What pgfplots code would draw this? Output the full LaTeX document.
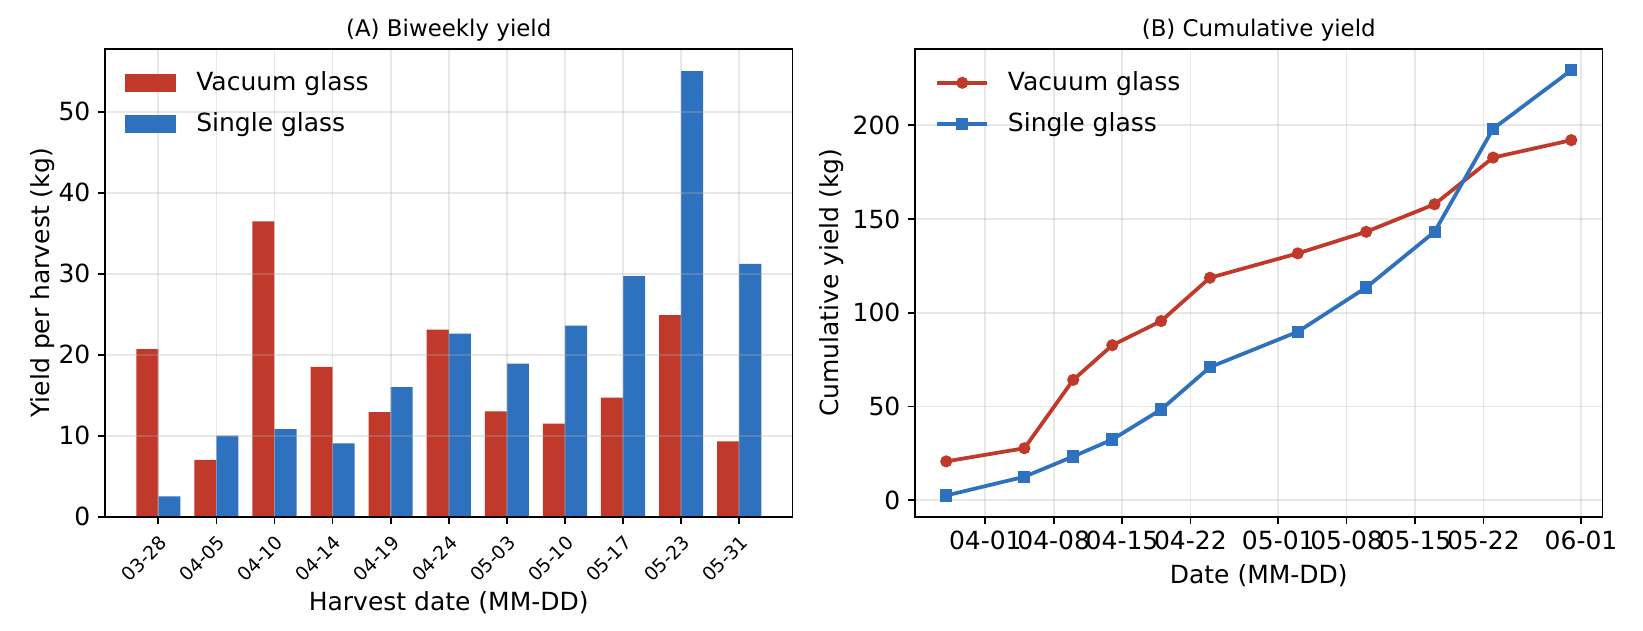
\documentclass[border=0pt]{standalone}
\usepackage{pgfplots}
\pgfplotsset{compat=1.18}
\usepackage{fontspec}
\setmainfont{DejaVu Sans}
\definecolor{cred}{RGB}{192,57,43}
\definecolor{cblue}{RGB}{46,113,190}

\pgfplotsset{
  common/.style={
    scale only axis, width=330pt, height=224.5pt,
    /pgf/number format/assume math mode=true,
    tick align=outside, xtick pos=bottom, ytick pos=left,
    major tick length=3.5pt,
    major tick style={black, line width=0.8pt},
    axis line style={line width=0.8pt},
    grid=major,
    major grid style={draw=black!31, opacity=0.3, line width=0.8pt},
    tick label style={font=\fontsize{12}{14}\selectfont},
    label style={font=\fontsize{12}{14}\selectfont},
    title style={font=\fontsize{11}{13}\selectfont, at={(0.5,1)}, anchor=base, yshift=0pt},
    legend cell align=left,
    legend style={draw=none, fill=none, font=\fontsize{12}{14}\selectfont,
      at={(0.02,0.97)}, anchor=north west, row sep=5pt},
  }
}

\begin{document}
\begin{tikzpicture}
\begin{axis}[common, at={(50.4pt,54.4pt)}, anchor=south west,
  title={(A) Biweekly yield},
  ybar, bar width=0.38,
  xmin=-0.918, xmax=10.918, ymin=0, ymax=57.75,
  xtick={0,1,2,3,4,5,6,7,8,9,10},
  xticklabels={03-28,04-05,04-10,04-14,04-19,04-24,05-03,05-10,05-17,05-23,05-31},
  xticklabel style={rotate=45, anchor=north east, font=\fontsize{9}{10}\selectfont},
  ytick={0,10,20,30,40,50},
  xlabel={Harvest date (MM-DD)}, ylabel={Yield per harvest (kg)},
  xlabel style={yshift=4pt},
  ylabel shift=-5pt,
  axis on top,
  legend image code/.code={\fill[#1] (0pt,-4.3pt) rectangle (24.5pt,4.3pt); \path (32pt,0pt);},
]
\addplot[fill=cred, draw=none, bar shift=-0.19] coordinates {
(0,20.7) (1,7.0) (2,36.45) (3,18.5) (4,12.9) (5,23.1) (6,13.0) (7,11.5) (8,14.7) (9,24.9) (10,9.3)};
\addplot[fill=cblue, draw=none, bar shift=0.19] coordinates {
(0,2.5) (1,10.0) (2,10.8) (3,9.05) (4,16.0) (5,22.6) (6,18.9) (7,23.6) (8,29.7) (9,55.0) (10,31.2)};
\legend{Vacuum glass, Single glass}
\end{axis}

\begin{axis}[common, at={(439.2pt,54.4pt)}, anchor=south west,
  title={(B) Cumulative yield},
  xmin=83.8, xmax=154.2, ymin=-8.8, ymax=240.7,
  xtick={91,98,105,112,121,128,135,142,152},
  xticklabels={04-01,04-08,04-15,04-22,05-01,05-08,05-15,05-22,06-01},
  ytick={0,50,100,150,200},
  xlabel={Date (MM-DD)}, ylabel={Cumulative yield (kg)},
  ylabel shift=-2.5pt,
  legend image code/.code={\draw[mark repeat=2,mark phase=2,#1] plot coordinates {(0pt,0pt) (12pt,0pt) (24pt,0pt)}; \path (31pt,0pt);},
]
\addplot[cred, line width=1.8pt, mark=*, mark size=2.5pt, mark options={line width=0.8pt}] coordinates {
(87,20.7) (95,27.7) (100,64.15) (104,82.65) (109,95.55) (114,118.65) (123,131.65) (130,143.15) (137,157.85) (143,182.75) (151,192.05)};
\addplot[cblue, line width=1.8pt, mark=square*, mark size=2.5pt, mark options={line width=0.8pt}] coordinates {
(87,2.5) (95,12.5) (100,23.3) (104,32.35) (109,48.35) (114,70.95) (123,89.85) (130,113.45) (137,143.15) (143,198.15) (151,229.35)};
\legend{Vacuum glass, Single glass}
\end{axis}
\pgfresetboundingbox
\path[use as bounding box] (0,0) rectangle (788.64pt,302.4pt);
\end{tikzpicture}
\end{document}
